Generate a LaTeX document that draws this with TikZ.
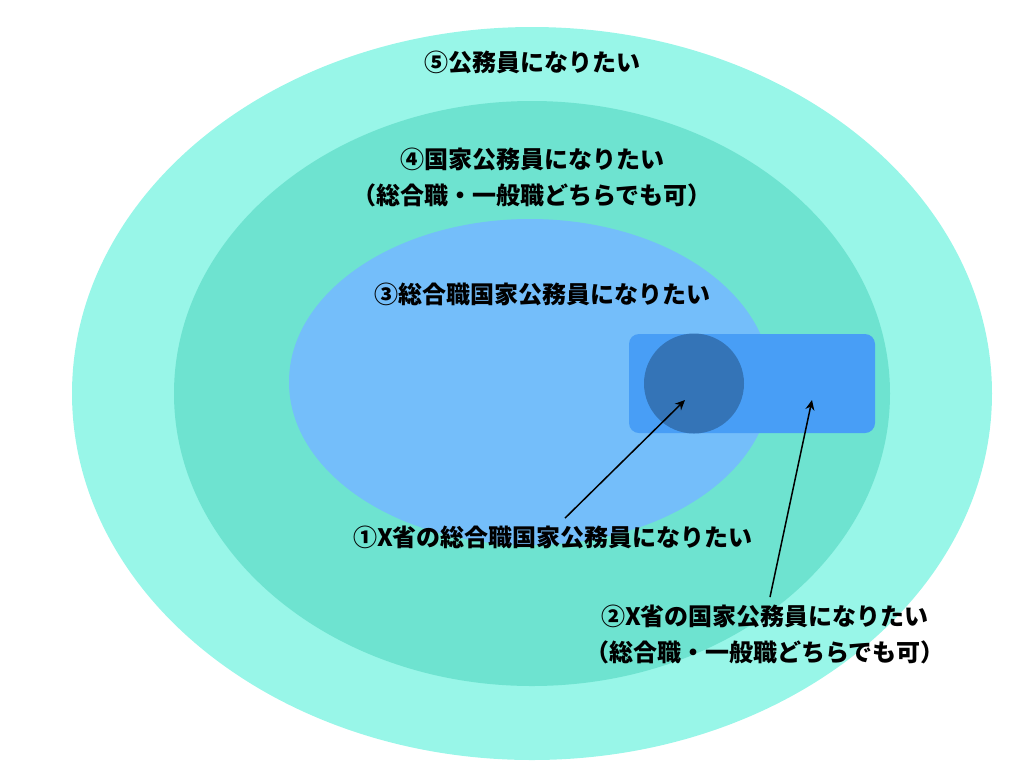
\documentclass[tikz,border=0pt]{standalone}
\usepackage{fontspec}
\setmainfont{Noto Sans CJK JP}
\usetikzlibrary{arrows.meta}
\definecolor{ring5}{HTML}{98F6E8}
\definecolor{ring4}{HTML}{6EE3D0}
\definecolor{ring3}{HTML}{74BEFA}
\definecolor{ring2}{HTML}{489EF6}
\definecolor{ring1}{HTML}{3474B7}
\begin{document}
\begin{tikzpicture}[x=0.5pt, y=-0.5pt,
        label/.style={font=\bfseries\fontsize{12pt}{18pt}\selectfont, align=center, inner sep=0pt},
        pointer/.style={-{Stealth[length=5pt, width=4.5pt]}, line width=0.75pt}]
        \useasboundingbox (0,0) rectangle (1024,768);
        \fill[ring5] (532,393.5) ellipse [x radius=460, y radius=366.5];
        \fill[ring4] (532,393.5) ellipse [x radius=358, y radius=292.5];
        \fill[ring3] (530,382) ellipse [x radius=241, y radius=163];
        \fill[ring2, rounded corners=5pt] (629,334) rectangle (875,433);
        \fill[ring1] (694,383.5) circle [radius=50];
        
        \node[style=label] (l5) at (532,62)  {⑤公務員になりたい};
        \node[style=label] (l4) at (532,177) {④国家公務員になりたい\\（総合職・一般職どちらでも可）};
        \node[style=label] (l3) at (542,294) {③総合職国家公務員になりたい};
        \node[style=label] (l1) at (553,537) {①X省の総合職国家公務員になりたい};
        \node[style=label] (l2) at (765,634) {②X省の国家公務員になりたい\\（総合職・一般職どちらでも可）};
        \coordinate (t1) at (685,400);
        \coordinate (t2) at (812,400);
        
        \draw[pointer] ([xshift=6pt, yshift=3.5pt]l1.north) -- (t1);
        \draw[pointer] ([xshift=2.5pt, yshift=3.5pt]l2.north) -- (t2);
    \end{tikzpicture}
\end{document}
